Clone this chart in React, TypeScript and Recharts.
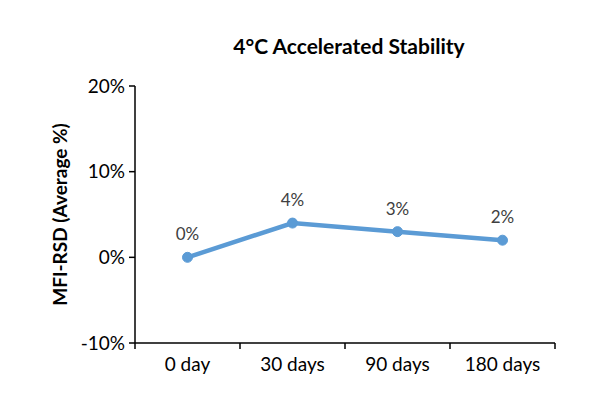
import React from 'react'
import { LineChart, Line, XAxis, YAxis, LabelList } from 'recharts'

const categories = ['0 day', '30 days', '90 days', '180 days']
const mfiRsd = [0, 4, 3, 2]
const yTicks = [-10, 0, 10, 20]

const data = categories.map((name, i) => ({ name, value: mfiRsd[i] }))

const font = 'Lato, "Open Sans", sans-serif'

const W = 613
const H = 402
const margin = { top: 86, right: 58, bottom: 19, left: 0 }
const yAxisWidth = 135
const plotWidth = W - margin.left - margin.right - yAxisWidth
const step = plotWidth / categories.length

// Excel-style category axis: tick marks sit between categories
const CategoryTick = (props: any) => {
  const { x, y, payload, index } = props
  const half = step / 2
  return (
    <g>
      <line x1={x - half} y1={y - 8} x2={x - half} y2={y - 2} stroke="#000" strokeWidth={1.5} />
      {index === categories.length - 1 && (
        <line x1={x + half} y1={y - 8} x2={x + half} y2={y - 2} stroke="#000" strokeWidth={1.5} />
      )}
      <text x={x} y={y + 20} textAnchor="middle" fill="#000" fontSize={19} fontFamily={font}>
        {payload.value}
      </text>
    </g>
  )
}

export default function App() {
  return (
    <div
      style={{
        position: 'absolute',
        top: 0,
        left: 0,
        width: W,
        height: H,
        background: '#fff',
        fontFamily: font,
      }}
    >
      <div
        style={{
          position: 'absolute',
          top: 33,
          left: 0,
          width: W,
          textAlign: 'center',
          paddingLeft: 85,
          boxSizing: 'border-box',
          fontSize: 21,
          fontWeight: 'bold',
          color: '#000',
        }}
      >
        4°C Accelerated Stability
      </div>
      <LineChart width={W} height={H} data={data} margin={margin}>
        <XAxis
          dataKey="name"
          height={40}
          stroke="#000"
          strokeWidth={1.5}
          tickLine={false}
          padding={{ left: step / 2, right: step / 2 }}
          tick={<CategoryTick />}
          interval={0}
        />
        <YAxis
          width={yAxisWidth}
          domain={[-10, 20]}
          ticks={yTicks}
          tickFormatter={(v) => `${v}%`}
          stroke="#000"
          strokeWidth={1.5}
          tickSize={6}
          tick={{ fill: '#000', fontSize: 19, fontFamily: font }}
          tickMargin={4}
          label={{
            value: 'MFI-RSD (Average %)',
            angle: -90,
            position: 'insideLeft',
            offset: 60,
            style: {
              textAnchor: 'middle',
              fontWeight: 'bold',
              fontSize: 19,
              fill: '#000',
              fontFamily: font,
            },
          }}
        />
        <Line
          dataKey="value"
          stroke="#5B9BD5"
          strokeWidth={4.5}
          dot={{ r: 5, fill: '#5B9BD5', stroke: '#5B9BD5', strokeWidth: 1 }}
          isAnimationActive={false}
        >
          <LabelList
            dataKey="value"
            position="top"
            offset={17}
            formatter={(v) => `${v}%`}
            style={{ fill: '#404040', fontSize: 17, fontFamily: font }}
          />
        </Line>
      </LineChart>
    </div>
  )
}
